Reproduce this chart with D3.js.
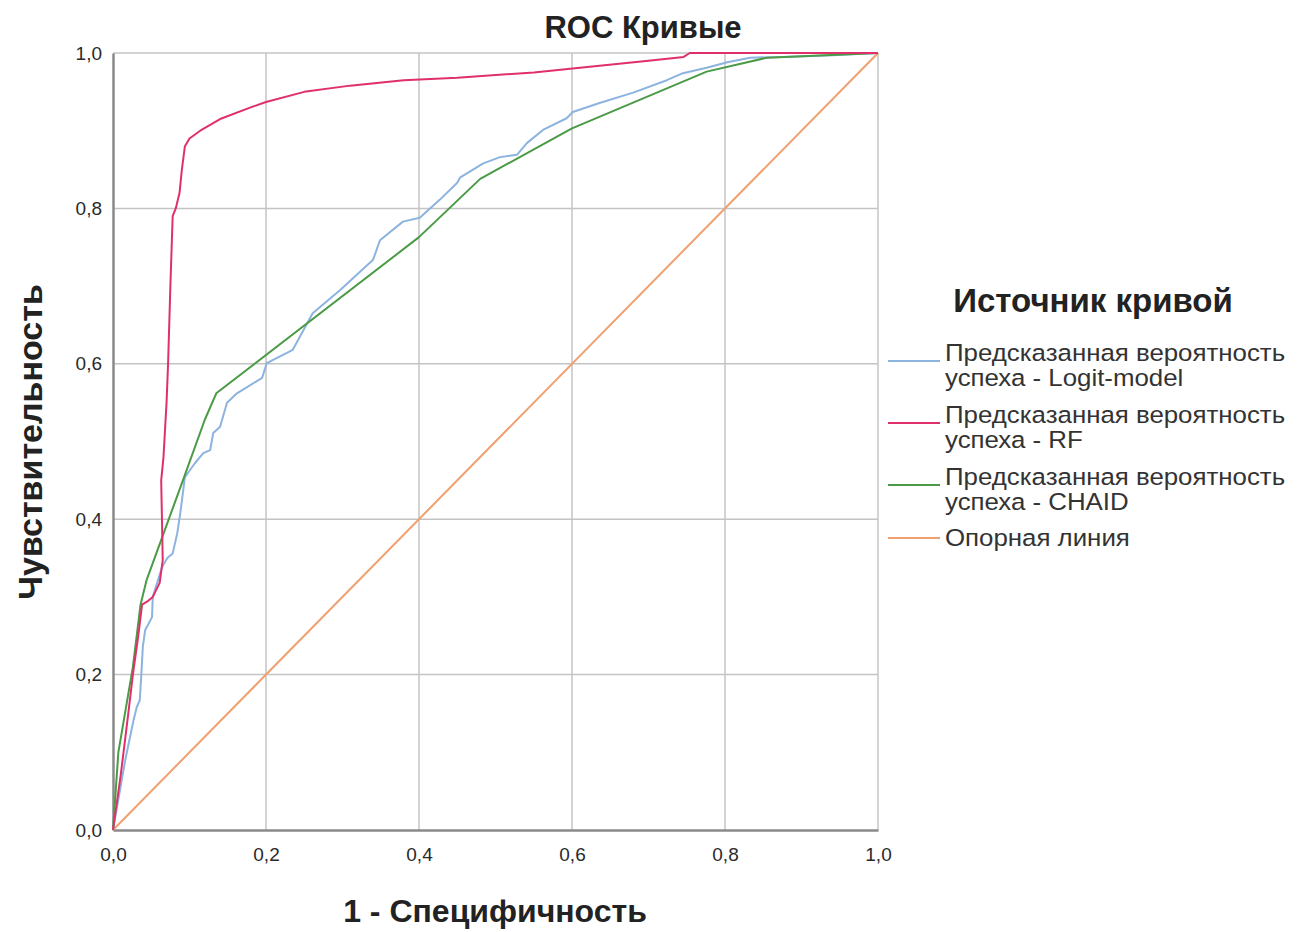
<!DOCTYPE html>
<html><head><meta charset="utf-8">
<script src="https://cdn.jsdelivr.net/npm/d3@7"></script>
<style>body{margin:0;background:#fff;} text{font-family:"Liberation Sans",Arial,sans-serif;}</style>
</head><body><svg id="c" width="1307" height="932"></svg>
<script>
const title = "ROC Кривые";
const xTitle = "1 - Специфичность";
const yTitle = "Чувствительность";
const legendTitle = "Источник кривой";
const tickValues = [0, 0.2, 0.4, 0.6, 0.8, 1.0];
const tickLabels = ["0,0", "0,2", "0,4", "0,6", "0,8", "1,0"];
const seriesNames = [
  ["Предсказанная вероятность", "успеха - Logit-model"],
  ["Предсказанная вероятность", "успеха - RF"],
  ["Предсказанная вероятность", "успеха - CHAID"],
  ["Опорная линия"]
];
const logitFpr = [0,0.016,0.027,0.031,0.035,0.037,0.039,0.042,0.051,0.052,0.064,0.071,0.078,0.084,0.088,0.094,0.107,0.118,0.127,0.131,0.14,0.149,0.162,0.195,0.201,0.235,0.261,0.297,0.34,0.349,0.379,0.401,0.427,0.45,0.454,0.484,0.506,0.528,0.541,0.562,0.593,0.601,0.637,0.68,0.724,0.745,0.776,0.803,0.833,0.876,0.941,1];
const logitTpr = [0,0.09,0.142,0.158,0.167,0.2,0.236,0.257,0.274,0.3,0.338,0.35,0.356,0.382,0.408,0.454,0.472,0.485,0.489,0.511,0.519,0.55,0.562,0.582,0.601,0.618,0.665,0.695,0.734,0.759,0.783,0.788,0.811,0.833,0.84,0.858,0.866,0.869,0.884,0.901,0.916,0.924,0.936,0.949,0.965,0.974,0.981,0.988,0.994,0.995,0.997,1];
const rfFpr = [0,0.01,0.02,0.026,0.033,0.038,0.046,0.052,0.061,0.065,0.064,0.063,0.066,0.07,0.072,0.075,0.078,0.082,0.087,0.09,0.094,0.1,0.114,0.14,0.18,0.2,0.25,0.31,0.38,0.45,0.55,0.62,0.7,0.746,0.754,1];
const rfTpr = [0,0.07,0.15,0.2,0.25,0.29,0.295,0.3,0.318,0.347,0.40,0.45,0.48,0.55,0.6,0.7,0.79,0.8,0.82,0.85,0.88,0.89,0.9,0.915,0.93,0.937,0.95,0.958,0.965,0.968,0.975,0.982,0.99,0.995,1,1];
const chaidFpr = [0,0.007,0.026,0.036,0.044,0.094,0.12,0.135,0.4,0.48,0.6,0.776,0.855,1];
const chaidTpr = [0,0.10,0.21,0.29,0.322,0.457,0.528,0.562,0.763,0.838,0.903,0.976,0.994,1];
const refFpr = [0,1];
const refTpr = [0,1];
const colors = ["#8db3df", "#e0306a", "#4a9a46", "#f0a070"];

const svg = d3.select("#c");
const x = d3.scaleLinear().domain([0,1]).range([113,878]);
const y = d3.scaleLinear().domain([0,1]).range([830,53]);

// grid
const g = svg.append("g");
g.selectAll(".vg").data(tickValues.slice(1)).enter().append("line")
  .attr("x1",d=>x(d)).attr("x2",d=>x(d)).attr("y1",y(0)).attr("y2",y(1))
  .attr("stroke","#c4c4c4").attr("stroke-width",1.5);
g.selectAll(".hg").data(tickValues.slice(1)).enter().append("line")
  .attr("y1",d=>y(d)).attr("y2",d=>y(d)).attr("x1",x(0)).attr("x2",x(1))
  .attr("stroke","#c4c4c4").attr("stroke-width",1.5);

// axes
const xAxis = d3.axisBottom(x).tickValues(tickValues).tickFormat((d,i)=>tickLabels[i]).tickSize(0).tickPadding(18);
const yAxis = d3.axisLeft(y).tickValues(tickValues).tickFormat((d,i)=>tickLabels[i]).tickSize(0).tickPadding(11);
const xa = svg.append("g").attr("transform",`translate(0,${y(0)})`).call(xAxis);
const ya = svg.append("g").attr("transform",`translate(${x(0)},0)`).call(yAxis);
[xa,ya].forEach(a=>{
  a.attr("font-size",19).attr("font-family","Liberation Sans, Arial, sans-serif");
  a.select(".domain").attr("stroke","#8a8a8a").attr("stroke-width",2.5);
  a.selectAll("text").attr("fill","#2a2a2a");
});

// curves
const line = d3.line().x(d=>x(d[0])).y(d=>y(d[1]));
const series = [
  d3.zip(logitFpr, logitTpr),
  d3.zip(rfFpr, rfTpr),
  d3.zip(chaidFpr, chaidTpr),
  d3.zip(refFpr, refTpr)
];
const drawOrder = [3,0,2,1];
drawOrder.forEach(i=>{
  svg.append("path").datum(series[i]).attr("d",line)
    .attr("fill","none").attr("stroke",colors[i]).attr("stroke-width",2).attr("stroke-linejoin","round");
});

// titles
svg.append("text").attr("x",643).attr("y",38).attr("text-anchor","middle")
  .attr("font-size",31).attr("font-weight","bold").attr("fill","#222").text(title);
svg.append("text").attr("x",495).attr("y",922).attr("text-anchor","middle")
  .attr("font-size",32).attr("font-weight","bold").attr("fill","#222").text(xTitle);
svg.append("text").attr("transform","translate(42,442) rotate(-90)").attr("text-anchor","middle")
  .attr("font-size",34).attr("font-weight","bold").attr("fill","#222").text(yTitle);

// legend
svg.append("text").attr("x",1093).attr("y",312).attr("text-anchor","middle")
  .attr("font-size",33).attr("font-weight","bold").attr("fill","#222").text(legendTitle);
const legY = [353, 415, 477, 538];
seriesNames.forEach((names,i)=>{
  const lg = svg.append("g");
  const ly = names.length>1 ? legY[i]+8 : legY[i];
  lg.append("line").attr("x1",888).attr("x2",940).attr("y1",ly).attr("y2",ly)
    .attr("stroke",colors[i]).attr("stroke-width",2);
  names.forEach((t,j)=>{
    lg.append("text").attr("transform",`translate(945,${legY[i]+8+j*25}) scale(1.1,1)`)
      .attr("font-size",23.5).attr("fill","#333").text(t);
  });
});
</script></body></html>
